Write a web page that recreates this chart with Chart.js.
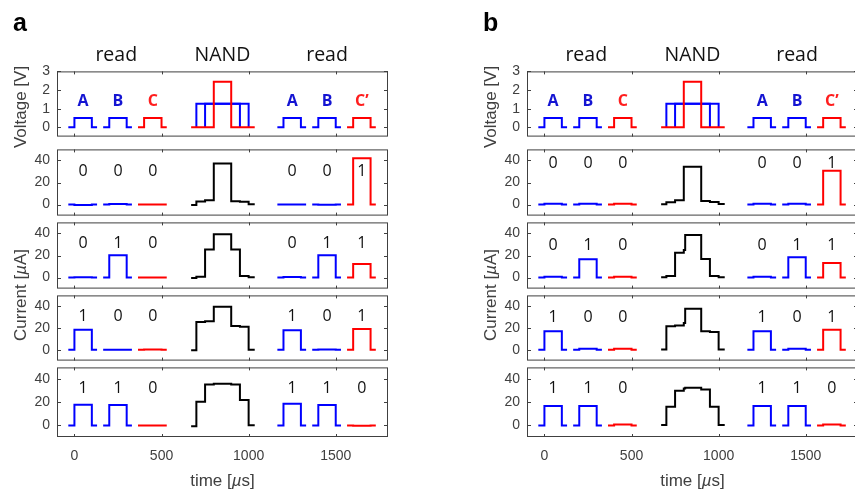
<!DOCTYPE html>
<html lang="en">
<head>
<meta charset="UTF-8" />
<title>NAND - read traces</title>
<script src="https://cdn.jsdelivr.net/npm/chart.js"></script>
<style>
  body { margin: 0; background: #fff; }
  #stage { position: relative; width: 855px; height: 493px; overflow: hidden; background: #fff; }
  #stage canvas { position: absolute; }
  .lbl { position: absolute; white-space: nowrap; line-height: 1; transform: translate(-50%, -50%); }
  .stageName { font-family: 'Open Sans'; font-size: 19.5px; color: #111; }
  .bit { font-family: 'Open Sans'; font-size: 16px; color: #111; }
  .inp { font-family: 'Open Sans'; font-weight: bold; font-size: 16px; }
  .axTitle { font-family: 'Liberation Sans'; font-size: 17px; color: #404040; }
  .vert { transform: translate(-50%, -50%) rotate(-90deg); }
  .panel { position: absolute; font-family: 'Liberation Sans'; font-weight: bold; font-size: 25px; line-height: 1; color: #000; }
</style>
</head>
<body>
<div id="stage"></div>

<script>
// ---------------------
// data (time in µs, voltage in V, current in µA)
// ---------------------
const xTicks = [0, 500, 1000, 1500];
const voltTicks = [0, 1, 2, 3];
const curTicks = [0, 20, 40];

const stageNames = ['read', 'NAND', 'read'];

const readNames = ['A', 'B', 'C', 'A', 'B', 'C\u2019'];
const readOnsets = [0, 200, 400, 1200, 1400, 1600];
const readWindow = [-35, 0, 100, 130];   // trace start, pulse on, pulse off, trace end (relative to onset)
const readVolt = 0.5;

// NAND step: C pulse (red) with its baseline, A and B inputs (blue, baseline hidden under red)
const nandVoltTC = [670, 800, 900, 1035];
const nandVoltC = [0, 2.44, 0, 0];
const nandVoltTA = [700, 700, 1000, 1000];
const nandVoltA = [0, 1.27, 1.27, 0];
const nandVoltTB = [750, 750, 950, 950];
const nandVoltB = [0, 1.27, 1.27, 0];

// logic value of each read, one row per input combination
const bitRows = [
  ['0', '0', '0', '0', '0', '1'],
  ['0', '1', '0', '0', '1', '1'],
  ['1', '0', '0', '1', '0', '1'],
  ['1', '1', '0', '1', '1', '0']
];

// panel a (measured): current plateau of each read
const readCurA = [
  [-0.3, 0.5, 0, 0, -0.2, 42],
  [0.3, 20.3, 0, 0.5, 20.3, 12.3],
  [18.5, 0, 0.3, 18, 0.3, 19],
  [17.8, 17.5, 0, 18.7, 17.5, -0.3]
];
const nandCurTA = [670, 700, 750, 800, 900, 950, 1000, 1035];
const nandCurA = [
  [-0.5, 2.8, 3.8, 37.3, 3, 2.5, 0.3, 0.3],
  [-0.5, 0.8, 25.5, 39.2, 25.5, 1.4, 0.3, 0.3],
  [-0.5, 25.5, 26.2, 39.5, 21.8, 21.2, 0, 0],
  [-0.8, 20.3, 35.3, 35.8, 35.3, 22, 0.2, 0.2]
];

// panel b (simulated)
const readCurB = [
  [0.8, 0.8, 0.8, 0.8, 0.8, 30.6],
  [0.8, 16.7, 0.8, 0.8, 18.5, 13.2],
  [17, 0.8, 0.8, 17, 0.8, 18.5],
  [16.8, 16.8, 0.8, 16.8, 16.8, 0.8]
];
const nandCurTB = [670, 700, 750, 800, 808, 900, 950, 1000, 1035];
const nandCurB = [
  [0.3, 2.2, 3.9, 34.2, 34.2, 3.2, 2.3, 0.5, 0.5],
  [0.3, 1.4, 22.5, 25, 38.6, 16.8, 1.4, 0.3, 0.3],
  [0.3, 21.6, 22.4, 24.5, 37.8, 17, 16.4, 0.3, 0.3],
  [0.3, 16, 29.8, 31.8, 32.5, 31, 16, 0.3, 0.3]
];

// ---------------------
// layout / style
// ---------------------
const BLUE = '#0000ff', RED = '#ff0000', BLACK = '#000000';
const TEXT_BLUE = '#1414d2', TEXT_RED = '#ff1e1e';
const AXIS = '#404040';
const plotW = 331;
const voltBox = { top: 71, h: 72 };
const rowBoxes = [{ top: 149, h: 73 }, { top: 222, h: 73 }, { top: 295, h: 72 }, { top: 367, h: 73 }];
const stageLabelX = [240, 850, 1450];
const stageLabelV = 3.9;
const inputLabelV = 1.45;

const stage = document.getElementById('stage');

function readColour(i) { return i % 3 === 2 ? RED : BLUE; }

function stepTrace(ts, vs, colour) {
  return {
    data: ts.map((t, k) => ({ x: t, y: vs[k] })),
    borderColor: colour,
    borderWidth: 2,
    stepped: true,
    pointRadius: 0,
    fill: false,
    borderJoinStyle: 'miter'
  };
}

function readTrace(onset, level, colour) {
  return stepTrace(readWindow.map(dt => onset + dt), [0, level, 0, 0], colour);
}

// frame + inward ticks, like a boxed matlab axes
const frameTicks = {
  id: 'frameTicks',
  afterDatasetsDraw(chart) {
    const { ctx, chartArea: a, scales: { x, y } } = chart;
    ctx.save();
    ctx.strokeStyle = AXIS;
    ctx.lineWidth = 1;
    ctx.beginPath();
    y.ticks.forEach(t => {
      const p = Math.round(y.getPixelForValue(t.value)) + 0.5;
      ctx.moveTo(a.left, p); ctx.lineTo(a.left + 4, p);
      ctx.moveTo(a.right, p); ctx.lineTo(a.right - 4, p);
    });
    xTicks.forEach(v => {
      const p = Math.round(x.getPixelForValue(v)) + 0.5;
      ctx.moveTo(p, a.bottom); ctx.lineTo(p, a.bottom - 3);
      ctx.moveTo(p, a.top); ctx.lineTo(p, a.top + 3);
    });
    ctx.stroke();
    ctx.strokeRect(a.left + 0.5, a.top + 0.5, a.right - a.left - 1, a.bottom - a.top - 1);
    ctx.restore();
  }
};

const tickFont = { family: 'Liberation Sans', size: 14 };

function makeAxes(left, box, yMin, yMax, yTicks, showX, datasets) {
  const padTop = 12, padRight = 10, axisW = 50, xAxisH = 34;
  const canvas = document.createElement('canvas');
  canvas.width = axisW + plotW + padRight;
  canvas.height = padTop + box.h + (showX ? xAxisH : 12);
  stage.appendChild(canvas);

  const xScale = {
    type: 'linear', min: -100, max: 1800, display: showX,
    afterBuildTicks: s => { s.ticks = xTicks.map(v => ({ value: v })); },
    grid: { display: false, drawTicks: false },
    border: { display: false },
    ticks: { padding: 11, color: AXIS, font: tickFont, maxRotation: 0, autoSkip: false, callback: v => String(v) }
  };
  if (showX) xScale.afterFit = s => { s.height = xAxisH; };

  const chart = new Chart(canvas, {
    type: 'line',
    data: { datasets: datasets },
    options: {
      responsive: false,
      animation: false,
      events: [],
      layout: { padding: { top: padTop, right: padRight, bottom: showX ? 0 : 12, left: 0 } },
      scales: {
        x: xScale,
        y: {
          type: 'linear', min: yMin, max: yMax,
          afterBuildTicks: s => { s.ticks = yTicks.map(v => ({ value: v })); },
          afterFit: s => { s.width = axisW; },
          grid: { display: false, drawTicks: false },
          border: { display: false },
          ticks: { padding: 7, color: AXIS, font: tickFont, autoSkip: false, callback: v => String(v) }
        }
      },
      plugins: { legend: { display: false }, tooltip: { enabled: false } }
    },
    plugins: [frameTicks]
  });

  // shift the canvas so the plot box lands where it is in the figure
  const a = chart.chartArea;
  const offX = left - a.left, offY = box.top - a.top;
  canvas.style.left = offX + 'px';
  canvas.style.top = offY + 'px';
  return { chart, offX, offY };
}

function addLabel(html, cls, px, py, colour) {
  const d = document.createElement('div');
  d.className = 'lbl ' + cls;
  d.innerHTML = html;
  d.style.left = px + 'px';
  d.style.top = py + 'px';
  if (colour) d.style.color = colour;
  stage.appendChild(d);
}

function at(ax, xv, yv) {
  return [ax.offX + ax.chart.scales.x.getPixelForValue(xv), ax.offY + ax.chart.scales.y.getPixelForValue(yv)];
}

function buildPanel(name, left, readCur, nandT, nandCur, bitY) {
  // voltage axes (first dataset is drawn on top, so the red NAND pulse goes first)
  const vSets = [
    stepTrace(nandVoltTC, nandVoltC, RED),
    stepTrace(nandVoltTA, nandVoltA, BLUE),
    stepTrace(nandVoltTB, nandVoltB, BLUE)
  ];
  readOnsets.forEach((on, i) => vSets.push(readTrace(on, readVolt, readColour(i))));
  const vAx = makeAxes(left, voltBox, -0.5, 3, voltTicks, false, vSets);

  stageNames.forEach((s, i) => {
    const [px, py] = at(vAx, stageLabelX[i], stageLabelV);
    addLabel(s, 'stageName', px, py);
  });
  readNames.forEach((s, i) => {
    const [px, py] = at(vAx, readOnsets[i] + 50, inputLabelV);
    addLabel(s, 'inp', px, py, i % 3 === 2 ? TEXT_RED : TEXT_BLUE);
  });

  // current axes, one per input combination
  rowBoxes.forEach((box, r) => {
    const sets = [stepTrace(nandT, nandCur[r], BLACK)];
    readOnsets.forEach((on, i) => sets.push(readTrace(on, readCur[r][i], readColour(i))));
    const ax = makeAxes(left, box, -10, 50, curTicks, r === rowBoxes.length - 1, sets);
    bitRows[r].forEach((b, i) => {
      const [px, py] = at(ax, readOnsets[i] + 50, bitY[r]);
      addLabel(b, 'bit', px, py);
    });
  });

  // axis titles and panel letter
  addLabel('Voltage [V]', 'axTitle vert', left - 37, voltBox.top + voltBox.h / 2);
  const curTop = rowBoxes[0].top, curBot = rowBoxes[3].top + rowBoxes[3].h;
  addLabel('Current [<i>\u00b5</i>A]', 'axTitle vert', left - 37, (curTop + curBot) / 2);
  addLabel('time [<i>\u00b5</i>s]', 'axTitle', left + plotW / 2, 480);

  const p = document.createElement('div');
  p.className = 'panel';
  p.textContent = name;
  p.style.left = (left - 44) + 'px';
  p.style.top = '10px';
  stage.appendChild(p);
}

buildPanel('a', 57, readCurA, nandCurTA, nandCurA, [31, 31.5, 31.5, 32.5]);
buildPanel('b', 527, readCurB, nandCurTB, nandCurB, [38, 30.5, 31, 32.5]);
</script>
</body>
</html>
